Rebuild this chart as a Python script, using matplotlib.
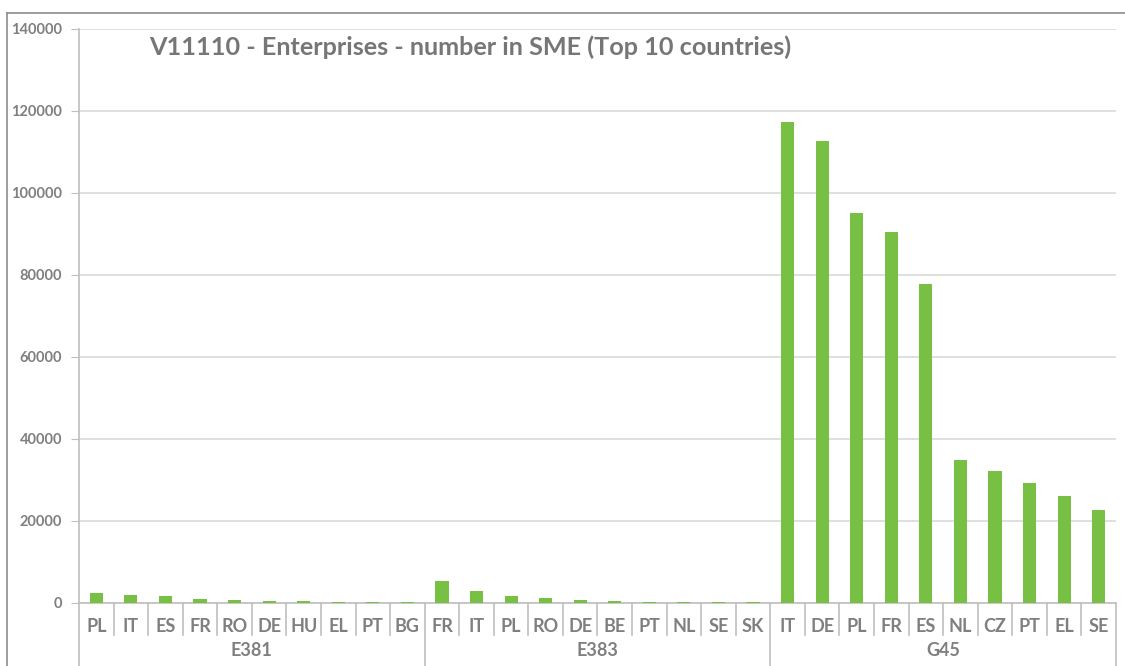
import matplotlib.pyplot as plt
from matplotlib.lines import Line2D
import matplotlib.transforms as mtransforms

plt.rcParams['font.family'] = ['Lato', 'DejaVu Sans']

groups = ["E381", "E383", "G45"]
e381_countries = ["PL", "IT", "ES", "FR", "RO", "DE", "HU", "EL", "PT", "BG"]
e381_values = [2350, 1850, 1700, 1050, 800, 500, 500, 300, 300, 300]
e383_countries = ["FR", "IT", "PL", "RO", "DE", "BE", "PT", "NL", "SE", "SK"]
e383_values = [5350, 3000, 1800, 1300, 700, 500, 350, 350, 350, 200]
g45_countries = ["IT", "DE", "PL", "FR", "ES", "NL", "CZ", "PT", "EL", "SE"]
g45_values = [117300, 112700, 95100, 90500, 77800, 34900, 32200, 29300, 26100, 22700]

countries = e381_countries + e383_countries + g45_countries
values = e381_values + e383_values + g45_values
group_sizes = [len(e381_countries), len(e383_countries), len(g45_countries)]

green = "#77C043"
grid_c = "#D9D9D9"
axis_c = "#BFBFBF"
text_c = "#7F7F7F"

fig = plt.figure(figsize=(11.25, 6.66), dpi=100)
ax = fig.add_axes([79 / 1125, 1 - 603 / 666, (1116 - 79) / 1125, 574 / 666])

x = list(range(len(countries)))
ax.bar(x, values, width=0.38, color=green, zorder=3)

ax.set_xlim(-0.5, len(countries) - 0.5)
ax.set_ylim(0, 140000)
ax.set_yticks(range(0, 140001, 20000))
ax.yaxis.grid(True, color=grid_c, linewidth=1.2, zorder=0)
ax.tick_params(axis="y", length=6, color=axis_c, labelsize=10.5, labelcolor=text_c, pad=6)
ax.tick_params(axis="x", length=0, labelsize=13, labelcolor=text_c, pad=11)
ax.set_xticks(x)
ax.set_xticklabels(countries)
for lbl in ax.get_yticklabels() + ax.get_xticklabels():
    lbl.set_fontweight("bold")

for side in ["top", "right"]:
    ax.spines[side].set_visible(False)
ax.spines["left"].set_color(axis_c)
ax.spines["bottom"].set_color(axis_c)
ax.spines["left"].set_linewidth(1.2)
ax.spines["bottom"].set_linewidth(1.2)

# multi-level category axis
trans = mtransforms.blended_transform_factory(ax.transData, ax.transAxes)
bounds = [-0.5]
for n in group_sizes:
    bounds.append(bounds[-1] + n)
group_edges = set(bounds)
for i in range(len(countries) + 1):
    b = i - 0.5
    y_end = -0.11 if b in group_edges else -0.056
    ax.add_line(Line2D([b, b], [0, y_end], transform=trans, color=axis_c,
                       linewidth=1.2, clip_on=False))
for g, lo, hi in zip(groups, bounds[:-1], bounds[1:]):
    ax.text((lo + hi) / 2, -0.082, g, transform=trans, ha="center", va="center",
            fontsize=13, fontweight="bold", color=text_c)

ax.text(0.068, 0.969, "V11110 - Enterprises - number in SME (Top 10 countries)",
        transform=ax.transAxes, ha="left", va="center", fontsize=18.2,
        fontweight="bold", color="#767676")

# outer chart frame
fig.add_artist(Line2D([7 / 1125, 7 / 1125], [0, 1 - 13 / 666], transform=fig.transFigure,
                      color="#8C8C8C", linewidth=1.2))
fig.add_artist(Line2D([7 / 1125, 1], [1 - 13 / 666, 1 - 13 / 666], transform=fig.transFigure,
                      color="#8C8C8C", linewidth=1.2))

fig.savefig("out.png", dpi=100)
